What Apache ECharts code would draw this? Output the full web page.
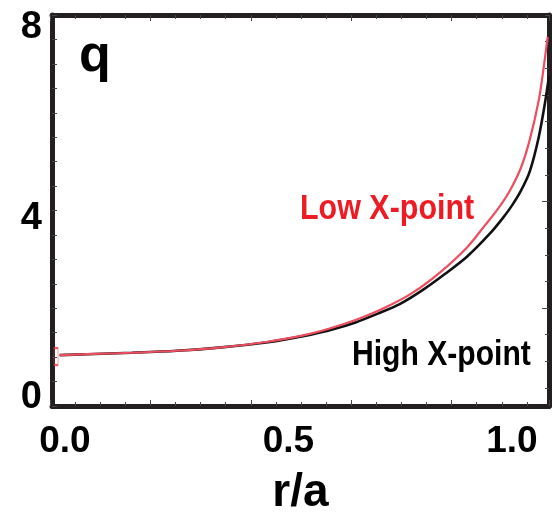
<!DOCTYPE html>
<html>
<head>
<meta charset="utf-8">
<script src="https://cdn.jsdelivr.net/npm/echarts@6/dist/echarts.min.js"></script>
<style>
  html, body { margin: 0; padding: 0; background: #fff; }
  #main { width: 552px; height: 519px; }
</style>
</head>
<body>
<div id="main"></div>
<script>
// r/a values and safety factor q
const lowR  = [-0.012, 0.05, 0.15, 0.25, 0.35, 0.45, 0.55, 0.65, 0.72, 0.78, 0.84, 0.90, 0.94, 0.97, 0.995, 1.02, 1.04, 1.06, 1.07, 1.08]
const lowQ  = [1.04, 1.06, 1.09, 1.13, 1.20, 1.31, 1.48, 1.76, 2.03, 2.33, 2.74, 3.25, 3.70, 4.05, 4.40, 4.87, 5.45, 6.25, 6.85, 7.55]
const highR = [-0.012, 0.05, 0.15, 0.25, 0.35, 0.45, 0.55, 0.60, 0.65, 0.70, 0.75, 0.80, 0.85, 0.90, 0.95, 0.98, 1.0, 1.02, 1.04, 1.06, 1.074, 1.083]
const highQ = [1.04, 1.06, 1.09, 1.13, 1.20, 1.30, 1.46, 1.57, 1.71, 1.89, 2.09, 2.37, 2.70, 3.06, 3.52, 3.85, 4.10, 4.40, 4.80, 5.50, 6.20, 6.75]
// measured q(0) box
const boxR = [-0.020]
const boxQ = [1.01]

const xLabels = [0, 0.5, 1.0]
const yLabels = [0, 4, 8]

const FONT = "'Liberation Sans', Arial, sans-serif"
const FRAME = '#231f20'

const pair = (xs, ys) => xs.map((x, i) => [x, ys[i]])

const frameLine = { show: true, onZero: false, lineStyle: { color: FRAME, width: 5 } }
const noAxisBits = { axisLine: { show: false }, axisTick: { show: false }, axisLabel: { show: false }, splitLine: { show: false } }
const tickStyle = { color: '#444', width: 1 }

const option = {
  animation: false,
  backgroundColor: '#fff',
  grid: [
    { left: 52, right: 3, top: 15, bottom: 113, outerBoundsMode: 'none' },   // data
    { left: 50, right: 3, top: 15, bottom: 113, outerBoundsMode: 'none' },   // top/bottom ticks
    { left: 52, right: 3, top: 15, bottom: 131, outerBoundsMode: 'none' }    // right ticks
  ],
  xAxis: [
    {
      type: 'value', gridIndex: 0, position: 'bottom',
      min: -0.029, max: 1.083,
      axisLine: frameLine,
      axisTick: { show: false },
      splitLine: { show: false },
      axisLabel: {
        customValues: xLabels,
        formatter: v => v.toFixed(1),
        fontFamily: FONT, fontWeight: 'bold', fontSize: 37, color: '#000', margin: 17
      },
      name: 'r/a', nameLocation: 'middle', nameGap: 64,
      nameTextStyle: { fontFamily: FONT, fontWeight: 'bold', fontSize: 46, color: '#000', verticalAlign: 'top' }
    },
    { type: 'value', gridIndex: 0, position: 'top', min: -0.029, max: 1.083,
      axisLine: frameLine, axisTick: { show: false }, axisLabel: { show: false }, splitLine: { show: false } },
    { type: 'value', gridIndex: 1, position: 'bottom', min: 0, max: 4.97, interval: 1,
      axisLine: { show: false, onZero: false }, axisLabel: { show: false }, splitLine: { show: false },
      axisTick: { inside: true, length: 6, lineStyle: tickStyle },
      minorTick: { show: true, splitNumber: 4, length: 4, lineStyle: tickStyle } },
    { type: 'value', gridIndex: 1, position: 'top', min: 0, max: 4.97, interval: 1,
      axisLine: { show: false, onZero: false }, axisLabel: { show: false }, splitLine: { show: false },
      axisTick: { inside: true, length: 6, lineStyle: tickStyle },
      minorTick: { show: true, splitNumber: 4, length: 4, lineStyle: tickStyle } },
    Object.assign({ type: 'value', gridIndex: 2, min: 0, max: 1 }, noAxisBits)
  ],
  yAxis: [
    {
      type: 'value', gridIndex: 0, position: 'left',
      min: 0, max: 8, interval: 4,
      axisLine: frameLine,
      splitLine: { show: false },
      axisTick: { inside: true, length: 5, lineStyle: tickStyle },
      minorTick: { show: true, splitNumber: 8, length: 5, lineStyle: tickStyle },
      axisLabel: {
        customValues: yLabels,
        fontFamily: FONT, fontWeight: 'bold', fontSize: 38, color: '#000', margin: 10,
        formatter: v => v === 8 ? '{t|8}' : v === 0 ? '{b|0}' : '{m|4}',
        rich: {
          t: { fontFamily: FONT, fontWeight: 'bold', fontSize: 38, padding: [26, 0, 0, 0] },
          m: { fontFamily: FONT, fontWeight: 'bold', fontSize: 38, padding: [16, 0, 0, 0] },
          b: { fontFamily: FONT, fontWeight: 'bold', fontSize: 38, padding: [0, 0, 16, 0] }
        }
      }
    },
    { type: 'value', gridIndex: 0, position: 'right', min: 0, max: 8,
      axisLine: frameLine, axisTick: { show: false }, axisLabel: { show: false }, splitLine: { show: false } },
    Object.assign({ type: 'value', gridIndex: 1, min: 0, max: 1 }, noAxisBits),
    { type: 'value', gridIndex: 2, position: 'right', min: 0, max: 14, interval: 1,
      axisLine: { show: false, onZero: false }, axisLabel: { show: false }, splitLine: { show: false },
      axisTick: { inside: true, length: 4, lineStyle: tickStyle } },
    { type: 'value', gridIndex: 2, position: 'right', min: 0, max: 14,
      axisLine: { show: false, onZero: false }, axisLabel: { show: false }, splitLine: { show: false },
      axisTick: { inside: true, length: 7, customValues: [3, 7, 11], lineStyle: tickStyle } }
  ],
  graphic: [
    { type: 'text', left: 79, top: 31, style: { text: 'q', fontFamily: FONT, fontWeight: 'bold', fontSize: 52, fill: '#000' } },
    { type: 'text', x: 300, y: 192, scaleX: 0.87, style: { text: 'Low X-point', fontFamily: FONT, fontWeight: 'bold', fontSize: 35, fill: '#ed1c24' } },
    { type: 'text', x: 352, y: 338, scaleX: 0.86, style: { text: 'High X-point', fontFamily: FONT, fontWeight: 'bold', fontSize: 35, fill: '#000' } }
  ],
  series: [
    {
      name: 'High X-point', type: 'line', xAxisIndex: 0, yAxisIndex: 0,
      data: pair(highR, highQ), showSymbol: false, smooth: 0.3, clip: true,
      lineStyle: { color: '#111', width: 2.6 }
    },
    {
      name: 'Low X-point', type: 'line', xAxisIndex: 0, yAxisIndex: 0,
      data: pair(lowR, lowQ), showSymbol: false, smooth: 0.3, clip: true,
      lineStyle: { color: '#ec4d5f', width: 2.2 }
    },
    {
      name: 'q0', type: 'scatter', xAxisIndex: 0, yAxisIndex: 0, z: 5,
      data: pair(boxR, boxQ), symbol: 'rect', symbolSize: [4, 17],
      itemStyle: { color: 'rgba(0,0,0,0)', borderColor: '#e8343f', borderWidth: 1.2 }
    }
  ]
}

const chart = echarts.init(document.getElementById('main'), null, { renderer: 'canvas' })
chart.setOption(option)
</script>
</body>
</html>
